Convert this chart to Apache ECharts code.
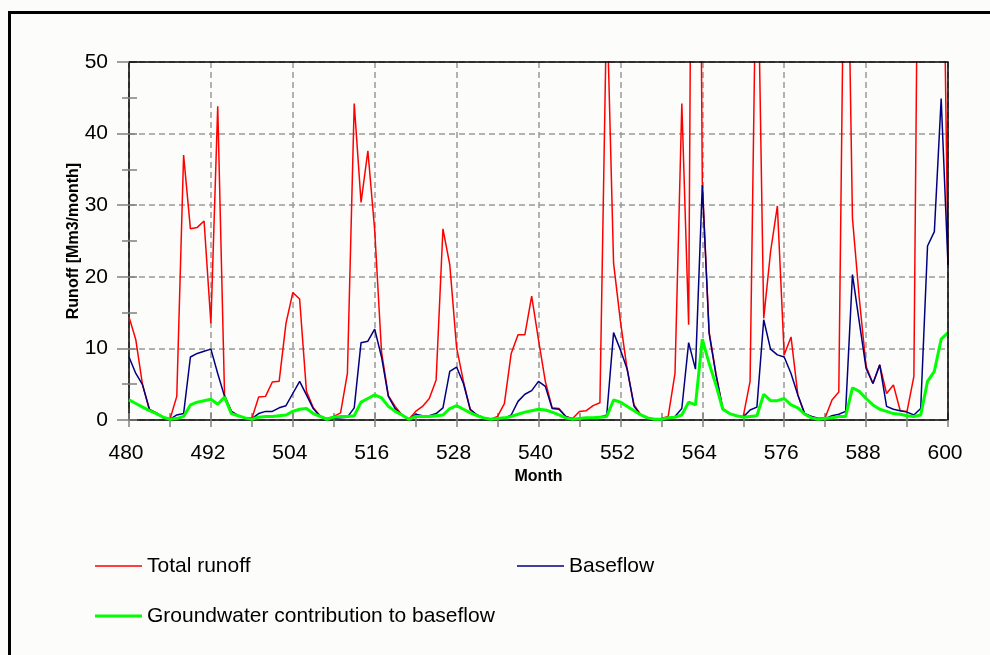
<!DOCTYPE html>
<html><head><meta charset="utf-8">
<script src="https://cdn.jsdelivr.net/npm/echarts@6/dist/echarts.min.js"></script>
<style>html,body{margin:0;padding:0;background:#fcfcfb}#c{width:990px;height:655px}</style>
</head><body><div id="c"></div>
<script>
const months = [480,481,482,483,484,485,486,487,488,489,490,491,492,493,494,495,496,497,498,499,
500,501,502,503,504,505,506,507,508,509,510,511,512,513,514,515,516,517,518,519,
520,521,522,523,524,525,526,527,528,529,530,531,532,533,534,535,536,537,538,539,
540,541,542,543,544,545,546,547,548,549,550,551,552,553,554,555,556,557,558,559,
560,561,562,563,564,565,566,567,568,569,570,571,572,573,574,575,576,577,578,579,
580,581,582,583,584,585,586,587,588,589,590,591,592,593,594,595,596,597,598,599,600];

const totalRunoff = [14.4,11.2,4.8,1.5,1.0,0.4,0.1,3.3,37.0,26.7,26.9,27.8,13.5,43.8,3.5,1.2,0.6,0.3,0.2,3.2,
3.3,5.3,5.4,13.5,17.8,16.9,4.0,1.7,0.6,0.2,0.5,1.0,6.5,44.2,30.4,37.6,26.5,9.5,3.4,1.9,
0.7,0.1,1.2,1.9,3.0,5.6,26.7,21.7,10.1,5.4,1.4,0.7,0.3,0.1,0.5,2.3,9.3,11.9,11.9,17.3,
11.2,5.4,1.7,1.6,0.5,0.2,1.2,1.3,2.0,2.4,59,21.9,13.8,7.0,2.1,0.7,0.3,0.1,0.2,0.5,
6.5,44.2,13.3,170,33.2,12.3,6.5,1.6,0.9,0.6,0.5,5.4,73,14.2,23.5,29.9,9.1,11.6,3.5,0.8,
0.5,0.2,0.3,2.8,3.9,88,28.2,17.0,7.5,5.1,7.7,3.7,4.9,1.3,1.2,6.1,115,80,95,92,21.8];

const baseflow = [8.8,6.5,4.9,1.4,1.0,0.3,0.1,0.7,0.9,8.8,9.3,9.6,9.9,6.5,3.3,1.2,0.6,0.3,0.2,0.9,
1.2,1.2,1.7,2.0,3.7,5.4,3.5,1.6,0.5,0.1,0.2,0.3,0.4,1.7,10.8,11.0,12.7,8.8,3.3,1.6,
0.7,0.1,0.8,0.6,0.6,0.9,1.7,6.8,7.4,5.1,1.5,0.7,0.3,0.1,0.2,0.2,0.7,2.6,3.6,4.1,
5.4,4.7,1.6,1.5,0.5,0.1,0.2,0.2,0.2,0.4,0.7,12.2,9.8,7.1,1.9,0.7,0.2,0.1,0.1,0.2,
0.5,1.6,10.8,7.1,32.8,12.1,6.3,1.6,0.9,0.6,0.4,1.4,1.8,14.0,9.9,9.1,8.8,6.5,3.5,0.9,
0.5,0.2,0.2,0.6,0.8,1.2,20.3,13.7,7.2,5.1,7.7,1.9,1.5,1.3,1.1,0.7,1.6,24.3,26.3,44.9,21.6];

const groundwater = [2.8,2.3,1.8,1.3,0.9,0.4,0.1,0.2,0.5,2.1,2.5,2.7,2.9,2.2,3.2,0.9,0.6,0.3,0.1,0.4,
0.5,0.5,0.6,0.7,1.2,1.5,1.6,0.9,0.5,0.1,0.4,0.5,0.5,0.6,2.5,3.0,3.5,3.1,1.9,1.2,
0.7,0.1,0.5,0.5,0.5,0.6,0.7,1.6,2.0,1.5,1.0,0.6,0.3,0.1,0.2,0.3,0.5,0.8,1.1,1.3,
1.5,1.4,1.1,0.7,0.3,0.1,0.2,0.3,0.3,0.4,0.5,2.8,2.5,1.9,1.3,0.7,0.3,0.1,0.1,0.3,
0.4,0.7,2.5,2.1,11.3,7.9,4.9,1.5,0.9,0.6,0.4,0.5,0.6,3.6,2.7,2.7,3.0,2.1,1.7,0.8,
0.3,0.1,0.2,0.3,0.5,0.5,4.5,4.0,3.0,2.1,1.5,1.2,0.9,0.8,0.6,0.5,0.7,5.4,6.8,11.3,12.2];

const seriesNames = ['Total runoff', 'Baseflow', 'Groundwater contribution to baseflow'];
const xTitle = 'Month';
const yTitle = 'Runoff [Mm3/month]';

const FONT = "'Liberation Sans', Arial, sans-serif";
const chart = echarts.init(document.getElementById('c'), null, {renderer: 'canvas'});
const gridPos = {left: 129, top: 62, width: 819, height: 358};
const tickColor = '#808080';

function pairs(vals) { return months.map((m, i) => [m, vals[i]]); }

const legendBase = {
  orient: 'horizontal', itemWidth: 47, selectedMode: false, icon: 'rect',
  textStyle: {fontFamily: FONT, fontSize: 21, color: '#000', lineHeight: 24}
};

chart.setOption({
  animation: false,
  backgroundColor: '#fcfcfb',
  graphic: [{
    type: 'rect', silent: true, z: 100,
    shape: {x: 9.5, y: 12.5, width: 1200, height: 900},
    style: {fill: 'none', stroke: '#000', lineWidth: 3}
  }, {
    type: 'polyline', silent: true, z: 100,
    shape: {points: [[129, 62], [948, 62], [948, 420]]},
    style: {fill: 'none', stroke: '#000', lineWidth: 1.5}
  }],
  legend: [
    Object.assign({}, legendBase, {data: [seriesNames[0]], left: 90, top: 549, itemHeight: 1.5}),
    Object.assign({}, legendBase, {data: [seriesNames[1]], left: 512, top: 549, itemHeight: 1.5}),
    Object.assign({}, legendBase, {data: [seriesNames[2]], left: 90, top: 599, itemHeight: 3})
  ],
  grid: [
    Object.assign({show: false}, gridPos),
    Object.assign({show: false}, gridPos)
  ],
  xAxis: [{
    type: 'value', gridIndex: 0, min: 480, max: 600, interval: 12,
    name: xTitle, nameLocation: 'middle', nameGap: 49,
    nameTextStyle: {fontFamily: FONT, fontSize: 16, fontWeight: 'bold', color: '#000'},
    axisLine: {show: true, onZero: false, lineStyle: {color: '#000', width: 1.5}},
    axisTick: {show: true, inside: false, length: 7, lineStyle: {color: tickColor, width: 1.5}},
    minorTick: {show: true, splitNumber: 2, length: 7, lineStyle: {color: tickColor, width: 1.5}},
    axisLabel: {fontFamily: FONT, fontSize: 21, color: '#000', margin: 23, padding: [0, 6, 0, 0]},
    splitLine: {show: true, lineStyle: {color: '#999', width: 1.5, type: [6, 4]}}
  }, {
    type: 'value', gridIndex: 1, min: 480, max: 600, interval: 12,
    axisLine: {show: false},
    axisTick: {show: true, inside: true, length: 7, lineStyle: {color: tickColor, width: 1.5}},
    minorTick: {show: true, splitNumber: 2, length: 7, lineStyle: {color: tickColor, width: 1.5}},
    axisLabel: {show: false}, splitLine: {show: false}
  }],
  yAxis: [{
    type: 'value', gridIndex: 0, min: 0, max: 50, interval: 10,
    name: yTitle, nameLocation: 'middle', nameGap: 47, nameRotate: 90, nameMoveOverlap: false,
    nameTextStyle: {fontFamily: FONT, fontSize: 16, fontWeight: 'bold', color: '#000'},
    axisLine: {show: true, onZero: false, lineStyle: {color: '#000', width: 1.5}},
    axisTick: {show: true, inside: false, length: 12, lineStyle: {color: tickColor, width: 1.5}},
    minorTick: {show: true, splitNumber: 2, length: 7, lineStyle: {color: tickColor, width: 1.5}},
    axisLabel: {fontFamily: FONT, fontSize: 21, color: '#000', margin: 21},
    splitLine: {show: true, lineStyle: {color: '#999', width: 1.5, type: [6, 4]}}
  }, {
    type: 'value', gridIndex: 1, min: 0, max: 50, interval: 10,
    axisLine: {show: false},
    axisTick: {show: true, inside: true, length: 8, lineStyle: {color: tickColor, width: 1.5}},
    minorTick: {show: true, splitNumber: 2, length: 8, lineStyle: {color: tickColor, width: 1.5}},
    axisLabel: {show: false}, splitLine: {show: false}
  }],
  series: [{
    name: seriesNames[0], type: 'line', xAxisIndex: 0, yAxisIndex: 0,
    data: pairs(totalRunoff), symbol: 'none', clip: true,
    lineStyle: {color: '#ff0000', width: 1.5}, itemStyle: {color: '#ff0000'}, z: 2
  }, {
    name: seriesNames[1], type: 'line', xAxisIndex: 0, yAxisIndex: 0,
    data: pairs(baseflow), symbol: 'none', clip: true,
    lineStyle: {color: '#000080', width: 1.5}, itemStyle: {color: '#000080'}, z: 3
  }, {
    name: seriesNames[2], type: 'line', xAxisIndex: 0, yAxisIndex: 0,
    data: pairs(groundwater), symbol: 'none', clip: true,
    lineStyle: {color: '#00ff00', width: 3}, itemStyle: {color: '#00ff00'}, z: 4
  }]
});
</script>
</body></html>
